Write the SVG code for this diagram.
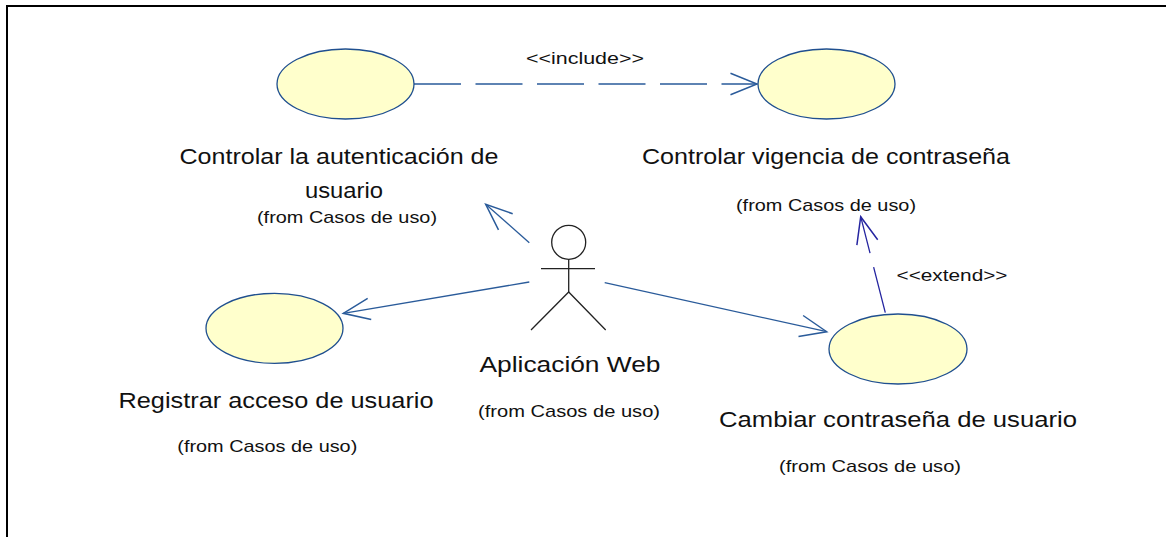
<svg xmlns="http://www.w3.org/2000/svg" width="1166" height="537" viewBox="0 0 1166 537">
<style>
.uc{fill:#ffffcc;stroke:#1f4f8f;stroke-width:1.3}
.big{font-family:"Liberation Sans",Arial,sans-serif;font-size:22px;fill:#111;text-anchor:middle}
.small{font-family:"Liberation Sans",Arial,sans-serif;font-size:17px;fill:#111;text-anchor:middle}
.assoc{fill:none;stroke:#2a5b9a;stroke-width:1.3}
.dep{fill:none;stroke:#2a5b9a;stroke-width:1.3;stroke-dasharray:47 14.5}
.ext{fill:none;stroke:#2525a0;stroke-width:1.3;stroke-dasharray:47 14.5}
.actor{fill:none;stroke:#222;stroke-width:1.3}
</style>
<defs>
<marker id="arrB" markerUnits="userSpaceOnUse" markerWidth="40" markerHeight="40" refX="0" refY="0" viewBox="-30 -15 35 30" orient="auto" overflow="visible">
<path d="M-23.2,-9.4 L0,0 L-23.2,9.4" fill="none" stroke="#2a5b9a" stroke-width="1.3"/>
</marker>
<marker id="arrN" markerUnits="userSpaceOnUse" markerWidth="40" markerHeight="40" refX="0" refY="0" viewBox="-30 -15 35 30" orient="auto" overflow="visible">
<path d="M-23.2,-9.4 L0,0 L-23.2,9.4" fill="none" stroke="#2525a0" stroke-width="1.3"/>
</marker>
</defs>
<rect width="1166" height="537" fill="#fff"/>
<rect x="7" y="6" width="1175" height="545" fill="none" stroke="#000" stroke-width="2"/>

<g id="connectors">
<line class="dep" x1="414" y1="84" x2="757" y2="84" marker-end="url(#arrB)"/>
<text class="small" x="585" y="64" textLength="118" lengthAdjust="spacingAndGlyphs">&lt;&lt;include&gt;&gt;</text>
<line class="assoc" x1="529.3" y1="242.7" x2="485.7" y2="204.3" marker-end="url(#arrB)"/>
<line class="assoc" x1="529.3" y1="282" x2="343.3" y2="313.3" marker-end="url(#arrB)"/>
<line class="assoc" x1="604.7" y1="282.7" x2="826.7" y2="331.7" marker-end="url(#arrB)"/>
<line class="ext" x1="885.3" y1="312.7" x2="860.7" y2="216.7" marker-end="url(#arrN)"/>
<text class="small" x="952" y="281" textLength="111" lengthAdjust="spacingAndGlyphs">&lt;&lt;extend&gt;&gt;</text>
</g>

<g id="uc-autenticacion">
<ellipse class="uc" cx="345.5" cy="84" rx="68.5" ry="35"/>
<text class="big" x="339" y="164" textLength="319" lengthAdjust="spacingAndGlyphs">Controlar la autenticación de</text>
<text class="big" x="344" y="198" textLength="78" lengthAdjust="spacingAndGlyphs">usuario</text>
<text class="small" x="347" y="223" textLength="180" lengthAdjust="spacingAndGlyphs">(from Casos de uso)</text>
</g>

<g id="uc-vigencia">
<ellipse class="uc" cx="826.5" cy="84" rx="68.5" ry="35"/>
<text class="big" x="826" y="164" textLength="368" lengthAdjust="spacingAndGlyphs">Controlar vigencia de contraseña</text>
<text class="small" x="826" y="211" textLength="180" lengthAdjust="spacingAndGlyphs">(from Casos de uso)</text>
</g>

<g id="uc-registrar">
<ellipse class="uc" cx="274.5" cy="328.3" rx="68.5" ry="35"/>
<text class="big" x="276" y="408" textLength="315" lengthAdjust="spacingAndGlyphs">Registrar acceso de usuario</text>
<text class="small" x="267.3" y="451.7" textLength="180" lengthAdjust="spacingAndGlyphs">(from Casos de uso)</text>
</g>

<g id="uc-cambiar">
<ellipse class="uc" cx="898" cy="349" rx="69" ry="35"/>
<text class="big" x="898" y="427" textLength="358" lengthAdjust="spacingAndGlyphs">Cambiar contraseña de usuario</text>
<text class="small" x="870" y="472" textLength="182" lengthAdjust="spacingAndGlyphs">(from Casos de uso)</text>
</g>

<g id="actor-web">
<circle class="actor" cx="568.7" cy="242.3" r="17"/>
<line class="actor" x1="541" y1="268.7" x2="595" y2="268.7"/>
<line class="actor" x1="568.7" y1="259.3" x2="568.7" y2="292"/>
<polyline class="actor" points="531,330 568.7,292 605.7,330"/>
<text class="big" x="570" y="371.7" textLength="181" lengthAdjust="spacingAndGlyphs">Aplicación Web</text>
<text class="small" x="569" y="416.7" textLength="182" lengthAdjust="spacingAndGlyphs">(from Casos de uso)</text>
</g>
</svg>
